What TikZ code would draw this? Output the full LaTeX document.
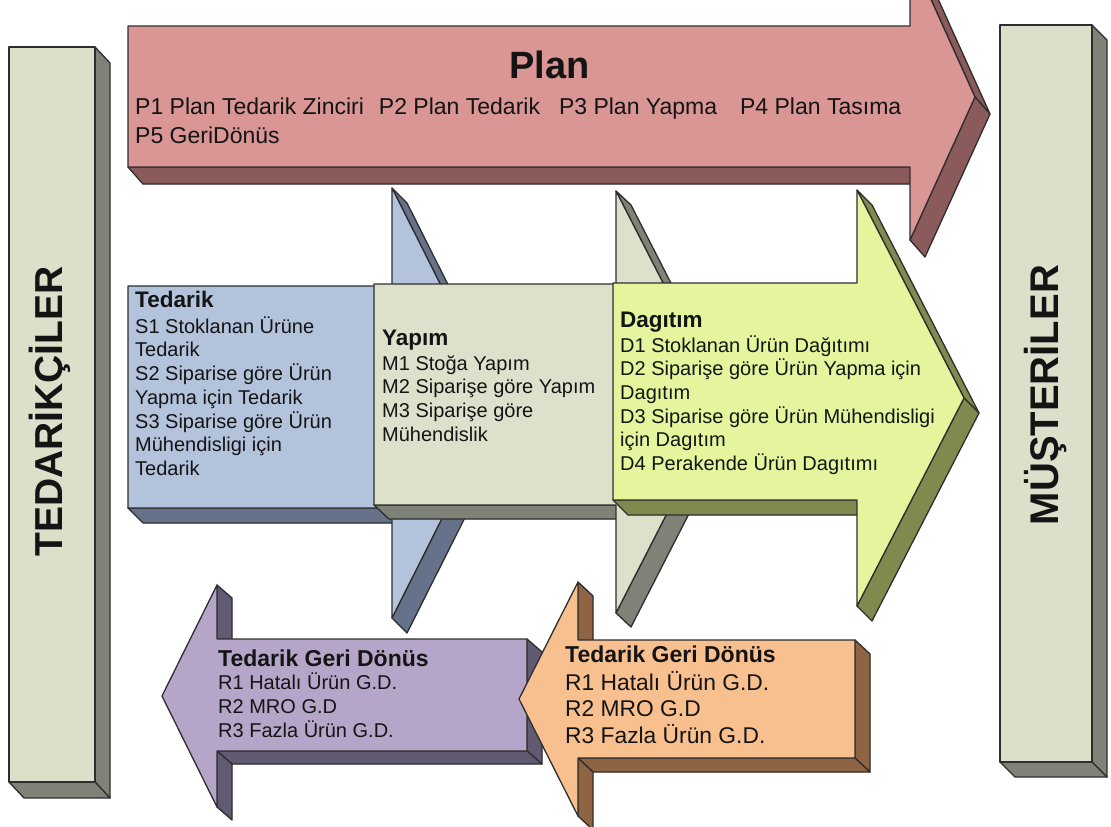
\documentclass[tikz,border=0pt]{standalone}
\usepackage{fontspec}
\setmainfont{Liberation Sans}

\definecolor{edgecol}{HTML}{2E2E2E}
\definecolor{txtcol}{HTML}{141414}
\definecolor{planface}{HTML}{D99694}
\definecolor{planside}{HTML}{8B5B5B}
\definecolor{barface}{HTML}{DCDFCA}
\definecolor{barside}{HTML}{7F8276}
\definecolor{srcface}{HTML}{B3C3DC}
\definecolor{srcside}{HTML}{65728A}
\definecolor{makeface}{HTML}{DDE0CB}
\definecolor{makeside}{HTML}{7E8277}
\definecolor{delface}{HTML}{E5F59D}
\definecolor{delside}{HTML}{7F8B4E}
\definecolor{retface}{HTML}{B5A5C9}
\definecolor{retside}{HTML}{625A73}
\definecolor{oretface}{HTML}{F9C08F}
\definecolor{oretside}{HTML}{8E6443}

\tikzset{
  edge/.style={draw=edgecol, line width=1.3pt, line join=round},
  blocktext/.style={anchor=north west, inner sep=0pt, align=left, text=txtcol},
  blockhead/.style={anchor=base west, inner sep=0pt, text=txtcol,
                    font=\bfseries\fontsize{22.5}{27}\selectfont},
  barlabel/.style={rotate=90, anchor=base, inner sep=0pt, text=txtcol},
}

% strut that fixes the top of the first line of a text block
\newcommand\topstrut{\rule{0pt}{1.1em}}

% Extruded flat shape: #1 face colour, #2 side colour, #3/#4 depth offset,
% #5/#6 last vertex, #7 vertices (clockwise on the page) as x/y pairs
\newcommand\solidshape[7]{%
  \fill[#2] (#5+#3,#6+#4) \foreach \vx/\vy in {#7}{ -- (\vx+#3,\vy+#4)} -- cycle;
  \xdef\ux{#5}\xdef\uy{#6}%
  \foreach \vx/\vy in {#7}{%
    \pgfmathsetmacro\facing{(#3)*(\vy-(\uy))-(#4)*(\vx-(\ux))}%
    \ifdim\facing pt>0pt\else
      \fill[#2] (\ux,\uy) -- (\vx,\vy) -- (\vx+#3,\vy+#4) -- (\ux+#3,\uy+#4) -- cycle;
    \fi
    \xdef\ux{\vx}\xdef\uy{\vy}}%
  \xdef\ux{#5}\xdef\uy{#6}%
  \foreach \vx/\vy in {#7}{%
    \pgfmathsetmacro\facing{(#3)*(\vy-(\uy))-(#4)*(\vx-(\ux))}%
    \ifdim\facing pt>0pt
      \filldraw[#2,edge] (\ux,\uy) -- (\vx,\vy) -- (\vx+#3,\vy+#4) -- (\ux+#3,\uy+#4) -- cycle;
    \fi
    \xdef\ux{\vx}\xdef\uy{\vy}}%
  \filldraw[#1,edge] (#5,#6) \foreach \vx/\vy in {#7}{ -- (\vx,\vy)} -- cycle;
}

\begin{document}
\begin{tikzpicture}[x=1pt,y=-1pt]
\useasboundingbox (0,0) rectangle (1111,827);
\clip (0,0) rectangle (1111,827);

% Plan arrow across the top
\solidshape{planface}{planside}{15}{17}{128}{167}%
  {128/26, 910/26, 910/-47, 975/97, 910/240, 910/167, 128/167}

% supplier and customer bars
\solidshape{barface}{barside}{15}{16}{9}{782}{9/47, 95/47, 95/782, 9/782}
\solidshape{barface}{barside}{15}{15}{1000}{762}{1000/25, 1092/25, 1092/762, 1000/762}

% source, make and deliver arrows
\solidshape{srcface}{srcside}{15}{15}{128}{508}%
  {128/286, 392/286, 392/188, 500/403, 392/618, 392/508, 128/508}
\solidshape{makeface}{makeside}{15}{14}{374}{505}%
  {374/284, 616/284, 616/191, 724/402, 616/613, 616/505, 374/505}
\solidshape{delface}{delside}{15}{15}{613}{500}%
  {613/283, 857/283, 857/190, 964/398, 857/606, 857/500, 613/500}

% return arrows
\solidshape{retface}{retside}{15}{13}{217}{639}%
  {527/639, 527/751, 217/751, 217/807, 162/696, 217/585, 217/639}
\solidshape{oretface}{oretside}{15}{14}{578}{640}%
  {855/640, 855/758, 578/758, 578/816, 519/699, 578/582, 578/640}

% labels
\node[anchor=base, inner sep=0pt, text=txtcol, font=\bfseries\fontsize{38}{44}\selectfont]
  (plantitle) at (549.5,78) {Plan};
\node[blocktext, font=\fontsize{23}{29}\selectfont] (plantext) at (135,88.7)
  {\topstrut P1 Plan Tedarik Zinciri\hspace{15pt}P2 Plan Tedarik\hspace{19pt}P3 Plan Yapma\hspace{23pt}P4 Plan Tasıma\\P5 GeriDönüs};

\node[barlabel, font=\bfseries\fontsize{39}{47}\selectfont] (suppliers) at (62,411.5) {TEDARİKÇİLER};
\node[barlabel, font=\bfseries\fontsize{40}{48}\selectfont] (customers) at (1058,395) {MÜŞTERİLER};

\node[blockhead] (srchead) at (135,307) {Tedarik};
\node[blocktext, font=\fontsize{20}{23.7}\selectfont] (srctext) at (135,311)
  {\topstrut S1 Stoklanan Ürüne\\Tedarik\\S2 Siparise göre Ürün\\Yapma için Tedarik\\S3 Siparise göre Ürün\\Mühendisligi için\\Tedarik};

\node[blockhead] (makehead) at (382,345) {Yapım};
\node[blocktext, font=\fontsize{20}{23.7}\selectfont] (maketext) at (382,348)
  {\topstrut M1 Stoğa Yapım\\M2 Siparişe göre Yapım\\M3 Siparişe göre\\Mühendislik};

\node[blockhead] (delhead) at (620,327) {Dagıtım};
\node[blocktext, font=\fontsize{20}{23.6}\selectfont] (deltext) at (620,330)
  {\topstrut D1 Stoklanan Ürün Dağıtımı\\D2 Siparişe göre Ürün Yapma için\\Dagıtım\\D3 Siparise göre Ürün Mühendisligi\\için Dagıtım\\D4 Perakende Ürün Dagıtımı};

\node[blockhead, font=\bfseries\fontsize{23}{27}\selectfont] (rethead) at (218,666) {Tedarik Geri Dönüs};
\node[blocktext, font=\fontsize{20}{24}\selectfont] (rettext) at (218,667)
  {\topstrut R1 Hatalı Ürün G.D.\\R2 MRO G.D\\R3 Fazla Ürün G.D.};

\node[blockhead, font=\bfseries\fontsize{23}{27}\selectfont] (orethead) at (565,662) {Tedarik Geri Dönüs};
\node[blocktext, font=\fontsize{22.8}{26.8}\selectfont] (orettext) at (565,664.9)
  {\topstrut R1 Hatalı Ürün G.D.\\R2 MRO G.D\\R3 Fazla Ürün G.D.};
\end{tikzpicture}
\end{document}
